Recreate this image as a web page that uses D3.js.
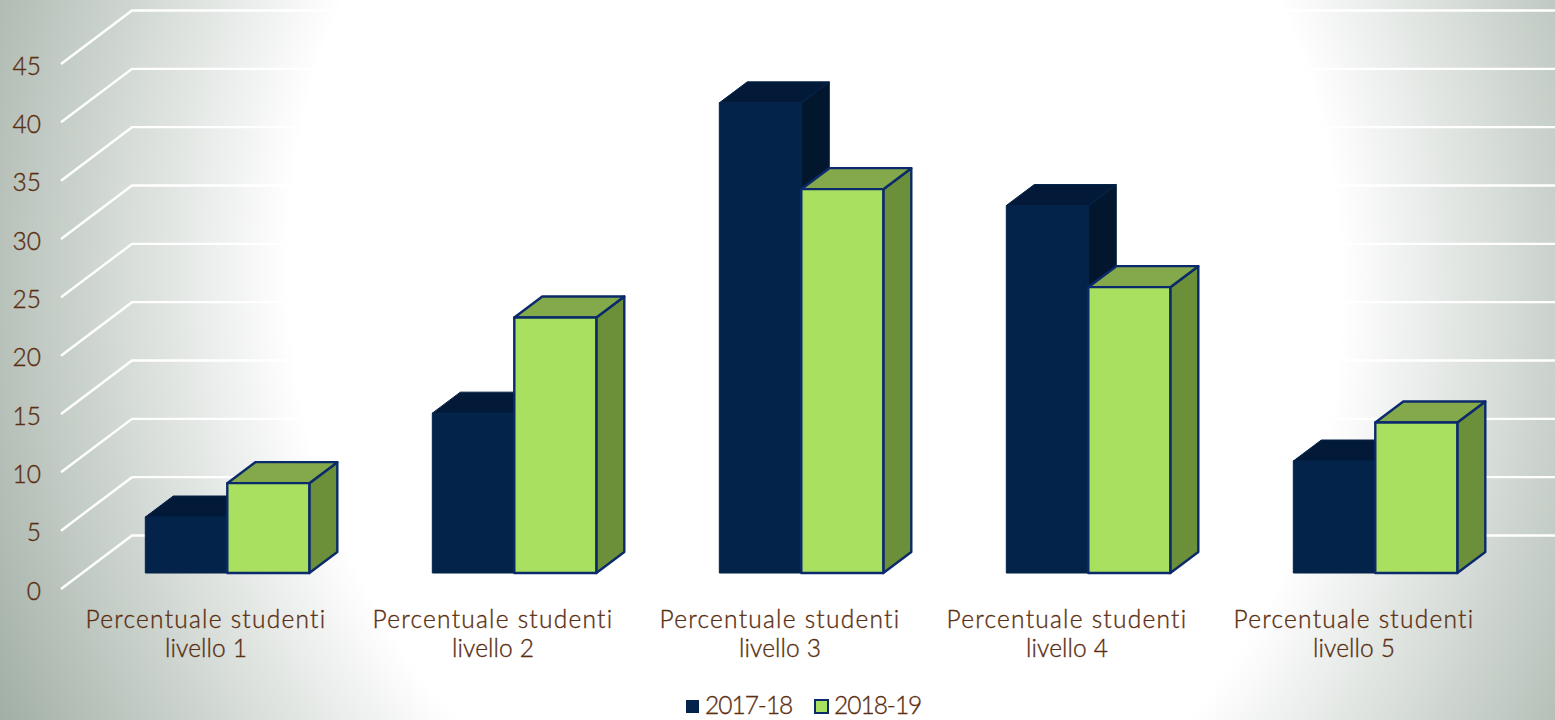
<!DOCTYPE html>
<html><head><meta charset="utf-8">
<script src="https://cdn.jsdelivr.net/npm/d3@7/dist/d3.min.js"></script>
<style>html,body{margin:0;padding:0;background:#fff;overflow:hidden}svg{display:block}
text{font-family:Lato,sans-serif;font-weight:300;fill:#5a2e10;stroke:#5a2e10;stroke-width:0.35px;font-size:24.5px}</style>
</head><body><div id="c"></div>
<script>
const categories=["livello 1","livello 2","livello 3","livello 4","livello 5"];
const categoryPrefix="Percentuale studenti";
const series=["2017-18","2018-19"];
const values2017=[4.8,13.7,40.3,31.5,9.6];
const values2018=[7.7,21.9,32.9,24.5,12.9];
const yTicks=[0,5,10,15,20,25,30,35,40,45];

const W=1555,H=720;
const svg=d3.select("#c").append("svg").attr("width",W).attr("height",H);
const defs=svg.append("defs");
const rho=1.75;
const g=defs.append("radialGradient").attr("id","bg").attr("gradientUnits","userSpaceOnUse")
 .attr("cx",0).attr("cy",0).attr("r",1)
 .attr("gradientTransform",`translate(815,280) rotate(-4) scale(${525*rho},${610*rho})`);
[[0,"#ffffff"],[1,"#ffffff"],[1.75,"#9eaca2"]].forEach(d=>g.append("stop").attr("offset",d[0]/rho).attr("stop-color",d[1]));
svg.append("rect").attr("width",W).attr("height",H).attr("fill","url(#bg)");

const y=d3.scaleLinear().domain([0,45]).range([589,64]);
const dxWall=71,dyWall=-53.5, xL=61;
const grid=svg.append("g");
yTicks.forEach(t=>{
 grid.append("path").attr("d",d3.line()([[xL,y(t)],[xL+dxWall,y(t)+dyWall],[W,y(t)+dyWall]]))
  .attr("fill","none").attr("stroke","#ffffff").attr("stroke-width",2.4);
});
const axis=svg.append("g").attr("transform","translate(47,1.5)")
 .call(d3.axisLeft(y).tickValues(yTicks).tickSize(0).tickPadding(6));
axis.select(".domain").remove();
axis.selectAll("text").attr("dy","0.36em").style("font-family","Lato,sans-serif").style("font-weight",300).style("font-size","24.5px").style("fill","#5a2e10");

const x=d3.scaleBand().domain(categories).range([62.5,62.5+287*5]).paddingInner(0).paddingOuter(0);
const xs=d3.scaleBand().domain(series).range([x.bandwidth()/2-82+21.3,x.bandwidth()/2+82+21.3]);
const baseOffset=16, dx=28, dy=-21;
const yb=v=>y(v)-baseOffset;
const styles=[
 {front:"#03234a",top:"#021a38",side:"#02162e",stroke:"#03234a",sw:1},
 {front:"#aae05f",top:"#84a94a",side:"#6c9039",stroke:"#0b2a6b",sw:2.4}
];
function bar(c,s,v,st){
 const x0=x(c)+xs(s),x1=x0+xs.bandwidth(),yt=yb(v),y0=yb(0);
 const G=svg.append("g").attr("stroke",st.stroke).attr("stroke-width",st.sw).attr("stroke-linejoin","round");
 G.append("path").attr("fill",st.side).attr("d",d3.line()([[x1,yt],[x1+dx,yt+dy],[x1+dx,y0+dy],[x1,y0]])+"Z");
 G.append("path").attr("fill",st.top).attr("d",d3.line()([[x0,yt],[x0+dx,yt+dy],[x1+dx,yt+dy],[x1,yt]])+"Z");
 G.append("rect").attr("x",x0).attr("y",yt).attr("width",x1-x0).attr("height",y0-yt).attr("fill",st.front);
}
categories.forEach((c,i)=>{
 bar(c,series[0],values2017[i],styles[0]);
 bar(c,series[1],values2018[i],styles[1]);
});
categories.forEach(c=>{
 const cx=x(c)+x.bandwidth()/2;
 svg.append("text").attr("x",cx).attr("y",628).attr("text-anchor","middle").attr("letter-spacing",1.25).text(categoryPrefix);
 svg.append("text").attr("x",cx).attr("y",657).attr("text-anchor","middle").attr("letter-spacing",0.1).text(c);
});
const lx=[686,815];
series.forEach((s,i)=>{
 svg.append("rect").attr("x",lx[i]).attr("y",700).attr("width",13).attr("height",13)
  .attr("fill",styles[i].front).attr("stroke",i?styles[1].stroke:"none").attr("stroke-width",i?2:0);
 svg.append("text").attr("x",lx[i]+19).attr("y",714).attr("letter-spacing",-1).text(s);
});
</script></body></html>
